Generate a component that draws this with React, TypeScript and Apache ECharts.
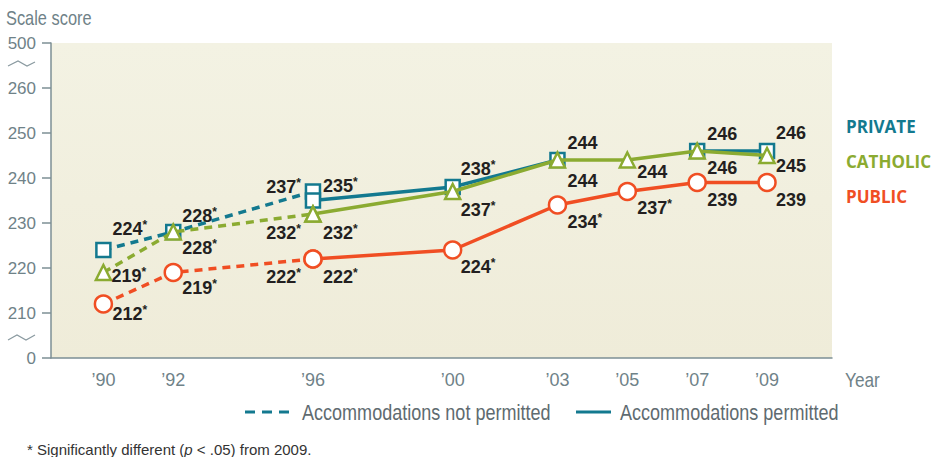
import React, { useEffect, useRef } from "react";
import * as echarts from "echarts";

// ---- Data ----
const yearTicks = [1990, 1992, 1996, 2000, 2003, 2005, 2007, 2009];
const dashedYears = [1990, 1992, 1996];
const solidYears = [1996, 2000, 2003, 2005, 2007, 2009];

const privateDashed = [224, 228, 237];
const privateDashedSig = [true, true, true];
const privateSolid = [235, 238, 244, null, 246, 246];
const privateSolidSig = [true, true, false, false, false, false];

const catholicDashed = [219, 228, 232];
const catholicDashedSig = [true, true, true];
const catholicSolid = [232, 237, 244, 244, 246, 245];
const catholicSolidSig = [true, true, false, false, false, false];

const publicDashed = [212, 219, 222];
const publicDashedSig = [true, true, true];
const publicSolid = [222, 224, 234, 237, 239, 239];
const publicSolidSig = [true, true, true, true, false, false];

// ---- Label placement (style only) ----
type Off = [number, number, string?] | null;
const privateDashedOff: Off[] = [[9, -21], [9, -16], [-12, -5, "right"]];
const privateSolidOff: Off[] = [[10, -15], [8, -18], [10, -17], null, [10, -17], [9, -18]];
const catholicDashedOff: Off[] = [[8, 3], [9, 16], [-12, 19, "right"]];
const catholicSolidOff: Off[] = [[10, 19], [8, 18], [10, 21], [10, 12], [10, 17], [9, 10]];
const publicDashedOff: Off[] = [[9, 10], [9, 15], [-12, 18, "right"]];
const publicSolidOff: Off[] = [[10, 18], [8, 17], [10, 17], [10, 16], [10, 17], [9, 17]];

const TEAL = "#13798f";
const GREEN = "#8bab31";
const RED = "#f04e23";
const GREY = "#6f8288";
const FONT = '"Liberation Sans", Arial, sans-serif';
const NARROW_SCALE = 0.82;

function buildData(years: number[], vals: (number | null)[], sig: boolean[], offs: Off[]) {
  return years.map((y, i) => {
    const v = vals[i];
    if (v === null || v === undefined) return { value: [y, "-"] };
    const o = offs[i] || [10, 0];
    return {
      value: [y, v],
      label: {
        show: true,
        position: "inside",
        align: o[2] || "left",
        verticalAlign: "middle",
        offset: [o[0], o[1]],
        formatter: sig[i] ? `{v|${v}}{s|*}` : `{v|${v}}`,
      },
    };
  });
}

function makeSeries(
  name: string,
  color: string,
  symbol: string,
  size: number,
  years: number[],
  vals: (number | null)[],
  sig: boolean[],
  offs: Off[],
  dashed: boolean,
  z: number
) {
  return {
    name,
    type: "line",
    data: buildData(years, vals, sig, offs),
    symbol,
    symbolSize: size,
    showAllSymbol: true,
    connectNulls: false,
    z,
    lineStyle: { color, width: 3.5, type: dashed ? [8, 6] : "solid" },
    itemStyle: { color: "#ffffff", borderColor: color, borderWidth: 2.5 },
    label: {
      show: true,
      rich: {
        v: { fontFamily: FONT, fontWeight: "bold", fontSize: 18, color: "#231f20", lineHeight: 20 },
        s: { fontFamily: FONT, fontWeight: "bold", fontSize: 12, color: "#231f20", lineHeight: 20, verticalAlign: "top" },
      },
    },
    emphasis: { disabled: true },
  };
}

function narrowText(x: number, y: number, text: string, size: number, fill: string, extra: any = {}) {
  return {
    type: "text",
    x,
    y,
    scaleX: NARROW_SCALE,
    style: { text, fontFamily: FONT, fontSize: size, fill, verticalAlign: "middle", ...extra },
  };
}

export default function App() {
  const ref = useRef<HTMLDivElement>(null);
  useEffect(() => {
    if (!ref.current) return;
    const chart = echarts.init(ref.current, null, { renderer: "svg" });
    const option: any = {
      animation: false,
      backgroundColor: "#ffffff",
      grid: {
        left: 51,
        right: 108,
        top: 43,
        bottom: 99,
        show: true,
        borderWidth: 0,
        backgroundColor: {
          type: "linear",
          x: 0,
          y: 0,
          x2: 0,
          y2: 1,
          colorStops: [
            { offset: 0, color: "#f3f2e3" },
            { offset: 1, color: "#efecd9" },
          ],
        },
      },
      xAxis: {
        type: "value",
        min: 1988.5,
        max: 2010.86,
        splitLine: { show: false },
        axisLine: { show: true, onZero: false, lineStyle: { color: "#7c8f95", width: 1.5 } },
        axisTick: { show: false },
        axisLabel: {
          customValues: yearTicks,
          formatter: (v: number) => "\u2019" + String(v).slice(2),
          fontFamily: FONT,
          fontSize: 18,
          color: GREY,
          margin: 13,
        },
      },
      yAxis: {
        type: "value",
        min: 200,
        max: 270,
        interval: 10,
        splitLine: { show: false },
        axisLine: { show: true, lineStyle: { color: "#7c8f95", width: 1.5 } },
        axisTick: { show: true, length: 9, lineStyle: { color: "#7c8f95", width: 1.5 } },
        axisLabel: {
          formatter: (v: number) => (v === 270 ? "500" : v === 200 ? "0" : String(v)),
          fontFamily: FONT,
          fontSize: 17,
          color: GREY,
          margin: 15,
        },
      },
      series: [
        makeSeries("Private (not permitted)", TEAL, "rect", 14, dashedYears, privateDashed, privateDashedSig, privateDashedOff, true, 2),
        makeSeries("Private", TEAL, "rect", 14, solidYears, privateSolid, privateSolidSig, privateSolidOff, false, 2),
        makeSeries("Catholic (not permitted)", GREEN, "triangle", 15, dashedYears, catholicDashed, catholicDashedSig, catholicDashedOff, true, 3),
        makeSeries("Catholic", GREEN, "triangle", 15, solidYears, catholicSolid, catholicSolidSig, catholicSolidOff, false, 3),
        makeSeries("Public (not permitted)", RED, "circle", 17, dashedYears, publicDashed, publicDashedSig, publicDashedOff, true, 4),
        makeSeries("Public", RED, "circle", 17, solidYears, publicSolid, publicSolidSig, publicSolidOff, false, 4),
      ],
      graphic: [
        narrowText(6, 18, "Scale score", 20, GREY),
        { type: "polyline", shape: { points: [[8, 66], [18, 61], [27, 66], [35, 62]] }, style: { stroke: "#8a9aa0", lineWidth: 1.2, fill: null } },
        { type: "polyline", shape: { points: [[8, 340], [17, 335], [26, 340], [35, 335]] }, style: { stroke: "#8a9aa0", lineWidth: 1.2, fill: null } },
        narrowText(845, 380, "Year", 21, GREY),
        { type: "text", left: 846, top: 118, style: { text: "PRIVATE", fontFamily: '"Open Sans", sans-serif', fontWeight: "bold", fontSize: 17, fill: TEAL } },
        { type: "text", left: 846, top: 153, style: { text: "CATHOLIC", fontFamily: '"Open Sans", sans-serif', fontWeight: "bold", fontSize: 17, fill: GREEN } },
        { type: "text", left: 846, top: 188, style: { text: "PUBLIC", fontFamily: '"Open Sans", sans-serif', fontWeight: "bold", fontSize: 17, fill: RED } },
        { type: "line", shape: { x1: 245, y1: 412, x2: 296, y2: 412 }, style: { stroke: TEAL, lineWidth: 3, lineDash: [10, 7] } },
        narrowText(302, 412, "Accommodations not permitted", 22, "#5f6b70"),
        { type: "line", shape: { x1: 576, y1: 412, x2: 611, y2: 412 }, style: { stroke: TEAL, lineWidth: 3 } },
        narrowText(620, 412, "Accommodations permitted", 22, "#5f6b70"),
        {
          type: "text",
          x: 27,
          y: 449,
          style: {
            text: "* Significantly different ({i|p} < .05) from 2009.",
            fontFamily: FONT,
            fontSize: 15,
            fill: "#333333",
            verticalAlign: "middle",
            rich: { i: { fontFamily: FONT, fontSize: 15, fontStyle: "italic", fill: "#333333" } },
          },
        },
      ],
    };
    chart.setOption(option);
    return () => chart.dispose();
  }, []);
  return (
    <div
      ref={ref}
      style={{ position: "fixed", left: 0, top: 0, width: 940, height: 457 }}
    />
  );
}
